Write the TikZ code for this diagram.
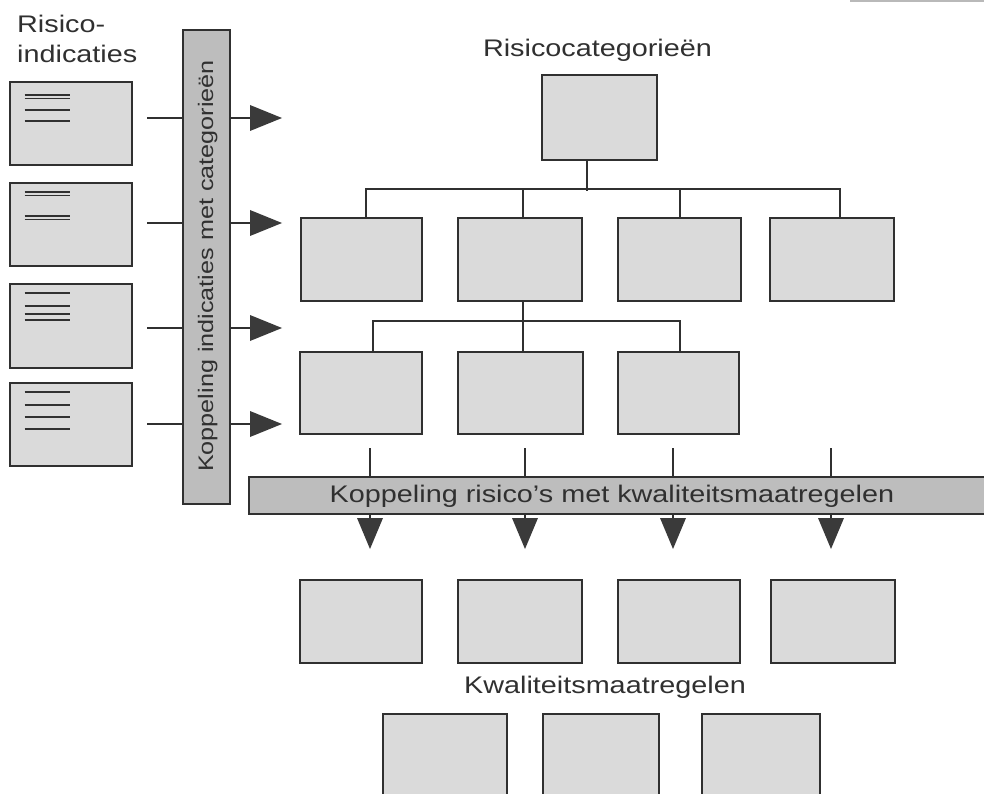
\documentclass[tikz,border=0pt]{standalone}
\usepackage{fontspec}
\setmainfont{Liberation Sans}[FakeStretch=1.2]
\usetikzlibrary{arrows.meta}
\definecolor{ink}{HTML}{303030}
\definecolor{boxfill}{HTML}{DADADA}
\definecolor{barfill}{HTML}{BDBDBD}
\definecolor{tipfill}{HTML}{3A3A3A}
\tikzset{
  box/.style 2 args={draw=ink, line width=2.6pt, fill=boxfill, inner sep=0pt,
    minimum width=#1, minimum height=#2},
  bar/.style 2 args={draw=ink, line width=2.2pt, fill=barfill, inner sep=0pt,
    minimum width=#1, minimum height=#2},
  conn/.style={draw=ink, line width=2pt},
  ruling/.style={draw=ink, line width=1.9pt},
  lbl/.style={inner sep=0pt, text=ink, font=\fontsize{24}{30}\selectfont},
  righttip/.style={-{Triangle[length=32pt,width=26pt,fill=tipfill,line width=0pt]}},
  downtip/.style={-{Triangle[length=31pt,width=26pt,fill=tipfill,line width=0pt]}},
}
\begin{document}
\begin{tikzpicture}[x=1pt,y=-1pt]
\clip (0,0) rectangle (984,794);
\draw[gray!55, line width=1.5pt] (850,0.8) -- (984,0.8);

% ---- left: risk indications
\node[lbl, align=left, anchor=base west] (ttl) at (17,63) {Risico-\\indicaties};
\node[box={122}{83}] (L1) at (71,123.5) {};
\node[box={122}{83}] (L2) at (71,224.5) {};
\node[box={122}{84}] (L3) at (71,326) {};
\node[box={122}{83}] (L4) at (71,424.5) {};
\foreach \o in {14.7,17.8,29,40} \draw[ruling] ([shift={(16,\o)}]L1.north west) -- ++(45,0);
\foreach \o in {10.3,13.8,34.3,37.8} \draw[ruling] ([shift={(16,\o)}]L2.north west) -- ++(45,0);
\foreach \o in {10,23.3,31.7,37.7} \draw[ruling] ([shift={(16,\o)}]L3.north west) -- ++(45,0);
\foreach \o in {10.3,23,35.3,47} \draw[ruling] ([shift={(16,\o)}]L4.north west) -- ++(45,0);

% ---- vertical bar
\node[bar={47}{474}] (VB) at (206.5,267) {};
\node[inner sep=0pt, text=ink, rotate=90, anchor=base, font=\fontsize{21}{25}\selectfont] (vbt) at (213,266)
  {Koppeling indicaties met categorieën};

\foreach \i/\y in {1/118,2/223,3/328,4/424}{
  \coordinate (s\i) at (147,\y);
  \coordinate (t\i) at (282,\y);
  \draw[conn] (s\i) -- (s\i -| VB.west);
  \draw[conn, righttip] (s\i -| VB.east) -- (t\i);
}

% ---- category tree
\node[lbl, anchor=base] (cattl) at (597.5,57) {Risicocategorieën};
\node[box={115}{85}] (C0) at (599.5,117.5) {};
\node[box={121}{83}] (R2a) at (361.5,259.5) {};
\node[box={124}{83}] (R2b) at (520,259.5) {};
\node[box={123}{83}] (R2c) at (679.5,259.5) {};
\node[box={124}{83}] (R2d) at (832,259.5) {};
\draw[conn] ([xshift=-12.5pt]C0.south) -- ++(0,30);
\draw[conn] ([xshift=4.5pt]R2a.north) -- ++(0,-28) -| ([xshift=8pt]R2d.north);
\draw[conn] ([xshift=3pt]R2b.north) -- ++(0,-28);
\draw[conn] ([xshift=0.5pt]R2c.north) -- ++(0,-28);

\node[box={122}{82}] (R3a) at (361,393) {};
\node[box={125}{82}] (R3b) at (520.5,393) {};
\node[box={121}{82}] (R3c) at (678.5,393) {};
\draw[conn] ([xshift=3pt]R2b.south) -- ([xshift=2.5pt]R3b.north);
\draw[conn] ([xshift=12pt]R3a.north) -- ++(0,-30) -| ([xshift=1.5pt]R3c.north);

% ---- horizontal bar
\node[bar={745}{37}] (HB) at (621.5,495.5) {};
\node[lbl, anchor=base] (hbt) at (612,502) {Koppeling risico's met kwaliteitsmaatregelen};
\foreach \i/\x in {1/370,2/525,3/673,4/831}{
  \coordinate (v\i) at (\x,448);
  \coordinate (d\i) at (\x,549);
  \draw[conn] (v\i) -- (v\i |- HB.north);
  \draw[conn, downtip] (v\i |- HB.south) -- (d\i);
}

% ---- quality measures
\node[box={122}{83}] (Q1) at (361,621.5) {};
\node[box={124}{83}] (Q2) at (520,621.5) {};
\node[box={122}{83}] (Q3) at (679,621.5) {};
\node[box={124}{83}] (Q4) at (833,621.5) {};
\node[lbl, anchor=base] (qtl) at (605,693) {Kwaliteitsmaatregelen};
\node[box={124}{100}] (Q5) at (445,764) {};
\node[box={116}{100}] (Q6) at (601,764) {};
\node[box={118}{100}] (Q7) at (761,764) {};
\end{tikzpicture}
\end{document}
